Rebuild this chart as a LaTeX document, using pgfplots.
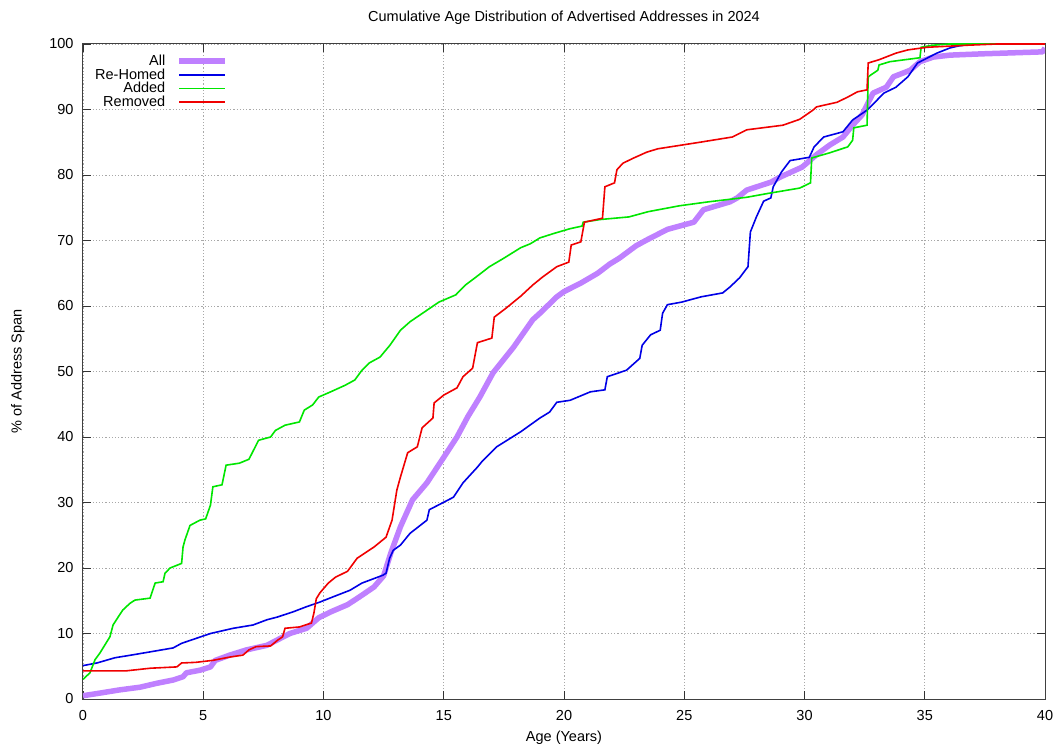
\documentclass[border=0pt]{standalone}
\usepackage{fontspec}
\setmainfont{Liberation Sans}
\usepackage{pgfplots}
\pgfplotsset{compat=1.18}
\definecolor{AllC}{HTML}{BF80FF}
\definecolor{ReC}{HTML}{0000E6}
\definecolor{AddC}{HTML}{00E600}
\definecolor{RemC}{HTML}{F00000}
\definecolor{GridC}{HTML}{A8A8A8}
\begin{document}
\begin{tikzpicture}[font=\fontsize{14.5}{17.4}\selectfont]
\begin{axis}[
  scale only axis,width=962pt,height=655pt,
  xmin=0,xmax=40,ymin=0,ymax=100,
  xtick={0,5,...,40},ytick={0,10,...,100},
  /pgf/number format/assume math mode=true,
  tick align=inside,major tick length=8pt,
  tick style={black!80,line width=0.8pt},
  axis line style={black!75,line width=1pt},
  grid=major,grid style={GridC,line width=0.7pt,dash pattern=on 1.2pt off 2pt},
  xticklabel style={yshift=-8pt},
  yticklabel style={xshift=-6pt},
  title={Cumulative Age Distribution of Advertised Addresses in 2024},
  title style={at={(axis description cs:0.5,1)},anchor=center,yshift=20pt},
  xlabel={Age (Years)},
  xlabel style={at={(axis description cs:0.5,0)},anchor=center,yshift=-39pt},
  ylabel={\% of Address Span},
  ylabel style={at={([xshift=-65pt]axis description cs:0,0.5)},anchor=center},
  legend plot pos=right,legend cell align=right,
  legend image code/.code={\draw[#1] (0pt,0pt) -- (46pt,0pt);},
  legend style={at={(0,1)},anchor=north west,xshift=10pt,yshift=-9pt,
    draw=none,fill=none,inner sep=0pt,column sep=9pt,row sep=-2.4pt},
]
\addplot[color=AllC,line width=5.5pt,line join=round] coordinates {
(0,0.5) (0.7,0.9) (1.54,1.4) (2.37,1.8) (3.07,2.4) (3.75,2.9) (4.16,3.4) (4.3,4)
(4.87,4.4) (5.3,4.9) (5.5,5.9) (6.1,6.7) (6.8,7.5) (7.65,8.2) (8.07,9) (8.6,10)
(9.3,10.8) (9.8,12.4) (10.3,13.3) (11.0,14.4) (11.5,15.6) (12.1,17.1) (12.5,18.8)
(12.8,22.3) (13.2,26.3) (13.7,30.4) (14.3,33) (15.0,36.9) (15.55,40) (16.0,43.1)
(16.5,46.1) (17.05,49.8) (17.9,53.7) (18.7,57.9) (19.0,58.9) (19.7,61.4) (20.0,62.2)
(20.7,63.5) (21.4,65) (21.9,66.4) (22.3,67.3) (23.0,69.2) (23.45,70.1) (24.3,71.7)
(25.4,72.8) (25.8,74.7) (26.9,75.9) (27.2,76.5) (27.6,77.7) (28.6,78.9) (29.0,79.7)
(29.9,81.2) (30.5,83.1) (31.06,84.6) (31.6,85.8) (32.0,87.6) (32.4,89.2) (32.6,90.7)
(32.85,92.5) (33.4,93.4) (33.7,95) (34.4,96) (34.8,97.3) (35.35,98) (36.05,98.3)
(37.4,98.5) (39.9,98.8) (40,99.4)
};
\addlegendentry{All}
\addplot[color=ReC,line width=1.6pt] coordinates {
(0,5.1) (0.58,5.5) (1.33,6.3) (2.0,6.7) (2.8,7.2) (3.75,7.8) (4.1,8.5) (4.74,9.3)
(5.3,10.0) (6.25,10.8) (7.07,11.3) (7.65,12.1) (8.07,12.5) (8.73,13.3) (9.3,14.1)
(9.85,14.8) (10.4,15.6) (11.1,16.6) (11.6,17.7) (12.47,18.9) (12.6,19.2) (12.75,21.5)
(12.9,22.7) (13.2,23.5) (13.6,25.3) (14.3,27.3) (14.4,28.9) (15.4,30.8) (15.8,33.0)
(16.4,35.4) (16.6,36.3) (17.2,38.5) (18.2,40.8) (19.0,42.9) (19.4,43.8) (19.7,45.3)
(20.25,45.6) (21.1,46.9) (21.7,47.2) (21.8,49.2) (22.6,50.2) (23.15,52) (23.25,54)
(23.6,55.6) (24.0,56.3) (24.1,58.9) (24.3,60.2) (24.9,60.6) (25.7,61.4) (26.6,62)
(26.9,62.9) (27.3,64.3) (27.65,66) (27.75,71.3) (28.0,73.6) (28.3,76.0) (28.6,76.5)
(28.7,78.2) (29.05,80.5) (29.4,82.2) (30.2,82.7) (30.4,84.3) (30.8,85.8) (31.6,86.6)
(32.0,88.4) (32.6,89.9) (32.9,91) (33.3,92.5) (33.8,93.4) (34.3,95) (34.7,97.1)
(35.5,98.6) (36.05,99.4) (36.4,99.7) (37,100) (40,100)
};
\addlegendentry{Re-Homed}
\addplot[color=AddC,line width=1.6pt] coordinates {
(0,3) (0.29,4) (0.5,6) (0.7,7) (1.12,9.5) (1.25,11.3) (1.46,12.5) (1.66,13.6)
(1.95,14.6) (2.16,15.1) (2.79,15.4) (2.87,16.3) (3.0,17.7) (3.33,17.9) (3.41,19.2)
(3.62,20) (4.1,20.7) (4.16,23.2) (4.24,24.3) (4.45,26.5) (4.86,27.3) (5.1,27.5)
(5.3,29.6) (5.4,32.4) (5.78,32.7) (5.95,35.7) (6.5,36) (6.9,36.6) (7.3,39.5) (7.8,40)
(8.0,41) (8.4,41.8) (9.0,42.3) (9.2,44.1) (9.55,44.9) (9.8,46.1) (10.3,46.9)
(10.9,47.9) (11.3,48.7) (11.6,50.2) (11.9,51.3) (12.35,52.2) (12.76,54) (13.2,56.3)
(13.6,57.6) (14.0,58.6) (14.8,60.6) (15.5,61.7) (15.9,63.2) (16.3,64.3) (16.9,66)
(17.5,67.3) (18.2,68.9) (18.6,69.5) (19.0,70.4) (19.6,71.1) (20.25,71.8) (20.75,72.2)
(20.8,72.8) (21.5,73.2) (22.7,73.6) (23.5,74.4) (24.8,75.3) (26.0,75.9) (27.6,76.6)
(28.5,77.2) (29.8,78.0) (30.25,78.8) (30.3,82.6) (31.06,83.4) (31.8,84.3) (32.0,85.3)
(32.05,87.2) (32.6,87.6) (32.65,95) (33.05,96) (33.1,96.8) (33.55,97.3) (34.8,97.9)
(34.85,99.5) (35.3,99.8) (36,100) (40,100)
};
\addlegendentry{Added}
\addplot[color=RemC,line width=1.6pt] coordinates {
(0,4.3) (1.8,4.3) (2.8,4.7) (3.9,4.9) (4.1,5.5) (4.7,5.6) (5.4,5.9) (6.1,6.4)
(6.65,6.7) (6.9,7.5) (7.2,8) (7.8,8.1) (8.1,9) (8.3,9.5) (8.4,10.8) (9.0,11)
(9.5,11.6) (9.6,13.1) (9.7,15.3) (9.85,16.2) (10.2,17.7) (10.5,18.6) (11.0,19.5)
(11.4,21.5) (12.1,23.2) (12.6,24.7) (12.85,27.3) (13.05,31.9) (13.2,33.9) (13.5,37.6)
(13.9,38.5) (14.1,41.4) (14.55,42.9) (14.6,45.2) (15.0,46.4) (15.55,47.5) (15.8,49.2)
(16.2,50.5) (16.4,54.4) (17.0,55.1) (17.1,58.3) (17.6,59.7) (18.2,61.5) (18.7,63.2)
(19.1,64.4) (19.7,66) (20.2,66.7) (20.3,69.3) (20.7,69.8) (20.85,72.8) (21.6,73.4)
(21.7,78.2) (22.1,78.8) (22.2,80.8) (22.45,81.8) (22.9,82.6) (23.45,83.5) (23.9,84)
(24.95,84.6) (25.65,85.0) (27.0,85.8) (27.6,86.9) (29.1,87.6) (29.8,88.5) (30.35,89.9)
(30.5,90.4) (31.35,91.1) (31.8,91.9) (32.2,92.7) (32.6,93) (32.65,97.1) (33.1,97.6)
(33.8,98.6) (34.3,99.1) (35.1,99.5) (36.7,99.8) (38,100) (40,100)
};
\addlegendentry{Removed}
\coordinate (bbsw) at ([xshift=-83pt,yshift=-46pt]rel axis cs:0,0);
\coordinate (bbne) at ([xshift=10pt,yshift=44pt]rel axis cs:1,1);
\end{axis}
\pgfresetboundingbox
\path (bbsw) rectangle (bbne);
\end{tikzpicture}
\end{document}
